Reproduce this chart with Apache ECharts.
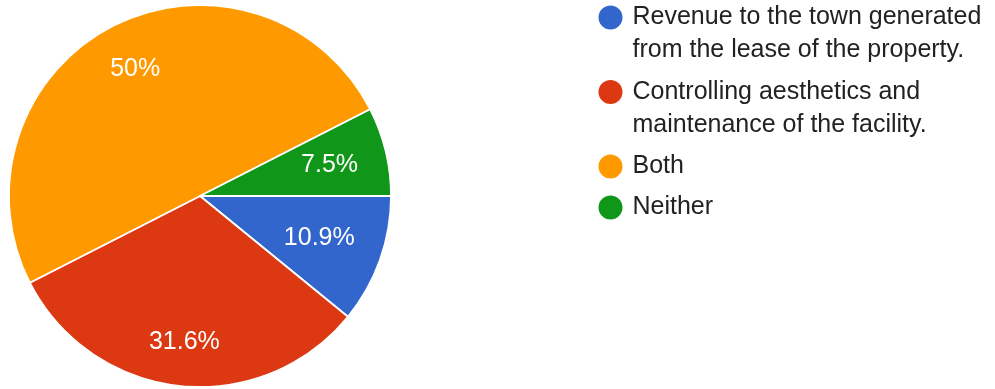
<!DOCTYPE html>
<html>
<head>
<meta charset="utf-8">
<script src="https://cdn.jsdelivr.net/npm/echarts@6/dist/echarts.min.js"></script>
<style>
  html, body { margin: 0; padding: 0; background: #ffffff; }
  #chart { width: 995px; height: 389px; }
</style>
</head>
<body>
<div id="chart"></div>
<script>
// ---- data ----
const categories = [
  'Revenue to the town generated from the lease of the property.',
  'Controlling aesthetics and maintenance of the facility.',
  'Both',
  'Neither'
];
const percents = [10.9, 31.6, 50, 7.5];
const colors = ['#3366cc', '#dc3912', '#ff9900', '#109618'];

// ---- layout / style ----
const FONT = "'Liberation Sans', Arial, sans-serif";
const FS = 25;
const LH = 33;
const CX = 200, CY = 196, R = 191;
const CORNER_R = 163;          // farthest corner of label box from centre
const GLYPH_H = 17.4;          // visible digit height
const WRAP = 31;
const iconCenters = [17.5, 92, 166.5, 207.5];
const ICON = 26;

function wrap(text) {
  const words = text.split(' ');
  const lines = [];
  let cur = '';
  words.forEach(w => {
    const t = cur ? cur + ' ' + w : w;
    if (t.length > WRAP && cur) { lines.push(cur); cur = w; } else { cur = t; }
  });
  if (cur) lines.push(cur);
  return lines;
}

const legends = categories.map((name, i) => {
  const lines = wrap(name);
  const L = lines.length;
  const text = new Array(L - 1).fill('').concat(lines).join('\n');
  return {
    show: true,
    orient: 'vertical',
    left: 596.5,
    top: iconCenters[i] - (2 * L - 1) * LH / 2,
    padding: 0,
    itemGap: 0,
    itemWidth: ICON,
    itemHeight: ICON,
    icon: 'circle',
    selectedMode: false,
    data: [name],
    formatter: () => text,
    textStyle: {
      fontFamily: FONT,
      fontSize: FS,
      lineHeight: LH,
      color: '#222222',
      padding: [0, 0, 0, 4]
    }
  };
});

const chart = echarts.init(document.getElementById('chart'), null, { renderer: 'canvas' });
chart.setOption({
  animation: false,
  color: colors,
  legend: legends,
  series: [{
    type: 'pie',
    center: [CX, CY],
    radius: [0, R],
    startAngle: 0,
    clockwise: true,
    avoidLabelOverlap: false,
    silent: true,
    itemStyle: { borderColor: '#ffffff', borderWidth: 1.8 },
    label: {
      show: true,
      position: 'inside',
      formatter: '{c}%',
      color: '#ffffff',
      fontFamily: FONT,
      fontSize: FS
    },
    labelLine: { show: false },
    labelLayout: function (p) {
      const r = p.labelRect;
      const lx = r.x + r.width / 2, ly = r.y + r.height / 2;
      let ux = lx - CX, uy = ly - CY;
      const n = Math.hypot(ux, uy) || 1;
      ux /= n; uy /= n;
      const ax = Math.sign(ux) * r.width / 2, ay = Math.sign(uy) * GLYPH_H / 2;
      const ua = ux * ax + uy * ay;
      const aa = ax * ax + ay * ay;
      const s = -ua + Math.sqrt(ua * ua - aa + CORNER_R * CORNER_R);
      return { x: CX + s * ux, y: CY + s * uy };
    },
    data: categories.map((name, i) => ({ name: name, value: percents[i] }))
  }]
});
</script>
</body>
</html>
